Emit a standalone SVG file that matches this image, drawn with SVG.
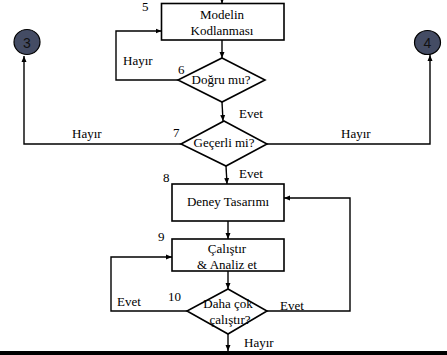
<svg xmlns="http://www.w3.org/2000/svg" width="447" height="355" viewBox="0 0 447 355" font-family="'Liberation Serif', 'Times New Roman', serif" font-size="13">
<defs>
<marker id="ah" markerWidth="6" markerHeight="6" viewBox="0 0 6 6" refX="6" refY="3" orient="auto" markerUnits="userSpaceOnUse">
<path d="M0,0.5 L6,3 L0,5.5 Z" fill="#000"/>
</marker>
</defs>
<style>
.shape{fill:#fff;stroke:#000;stroke-width:1.6}
.conn{fill:none;stroke:#000;stroke-width:1.4}
.arr{marker-end:url(#ah)}
.t{font-family:'Liberation Serif','Times New Roman',serif;font-size:13px;fill:#000}
.c{text-anchor:middle}
.circ{fill:#444c64;stroke:#000;stroke-width:1.2}
.ct{font-family:'Liberation Sans',Arial,sans-serif;font-size:14px;fill:#111;text-anchor:middle}
</style>
<rect width="447" height="355" fill="#fff"/>
<g id="connectors">
<path class="conn arr" d="M222,-2 L222,3.5"/>
<path class="conn arr" d="M222,40 L222,58"/>
<path class="conn arr" d="M178,80 L116,80 L116,31 L161.5,31"/>
<path class="conn arr" d="M222,102 L223,121"/>
<path class="conn arr" d="M181,144 L24,144 L24,56"/>
<path class="conn arr" d="M267,144 L430,144 L430,55"/>
<path class="conn arr" d="M226,166 L227,184"/>
<path class="conn arr" d="M228,221 L228,239"/>
<path class="conn arr" d="M228,271 L228,289"/>
<path class="conn arr" d="M187,311 L111,311 L111,257 L172,257"/>
<path class="conn arr" d="M267,311 L350,311 L350,198 L284,198"/>
<path class="conn arr" d="M228,334 L228,351"/>
<text class="t" x="123" y="65">Hayır</text>
<text class="t" x="239" y="118">Evet</text>
<text class="t" x="72" y="138">Hayır</text>
<text class="t" x="341" y="138">Hayır</text>
<text class="t" x="239" y="178">Evet</text>
<text class="t" x="117" y="306">Evet</text>
<text class="t" x="280" y="310">Evet</text>
<text class="t" x="244" y="347">Hayır</text>
</g>
<g id="n5">
<rect class="shape" x="161.5" y="3.5" width="122.5" height="36.5"/>
<text class="t" x="142" y="11">5</text>
<text class="t c" x="222" y="19">Modelin</text>
<text class="t c" x="222" y="35">Kodlanması</text>
</g>
<g id="n6">
<polygon class="shape" points="222,58 265,80 222,102 178,80"/>
<text class="t" x="178" y="74">6</text>
<text class="t c" x="221" y="84">Doğru mu?</text>
</g>
<g id="n7">
<polygon class="shape" points="224,121 267,144 226,166 181,144"/>
<text class="t" x="173" y="137">7</text>
<text class="t c" x="224" y="147">Geçerli mi?</text>
</g>
<g id="n8">
<rect class="shape" x="172" y="184" width="112" height="37"/>
<text class="t" x="163" y="182">8</text>
<text class="t c" x="228" y="206">Deney Tasarımı</text>
</g>
<g id="n9">
<rect class="shape" x="172" y="239" width="112" height="32"/>
<text class="t" x="158" y="241">9</text>
<text class="t c" x="227" y="252.5">Çalıştır</text>
<text class="t c" x="227" y="269">&amp; Analiz et</text>
</g>
<g id="n10">
<polygon class="shape" points="228,289 267,311 228,334 187,311"/>
<text class="t" x="168" y="301">10</text>
<text class="t c" x="228" y="308">Daha çok</text>
<text class="t c" x="230" y="324">çalıştır?</text>
</g>
<g id="c3">
<ellipse class="circ" cx="27" cy="42" rx="13" ry="12.5"/>
<text class="ct" x="27" y="47.5">3</text>
</g>
<g id="c4">
<ellipse class="circ" cx="427.5" cy="42.5" rx="13" ry="12"/>
<text class="ct" x="427.5" y="47.5">4</text>
</g>
<rect x="0" y="351" width="447" height="4" fill="#000"/>
</svg>
